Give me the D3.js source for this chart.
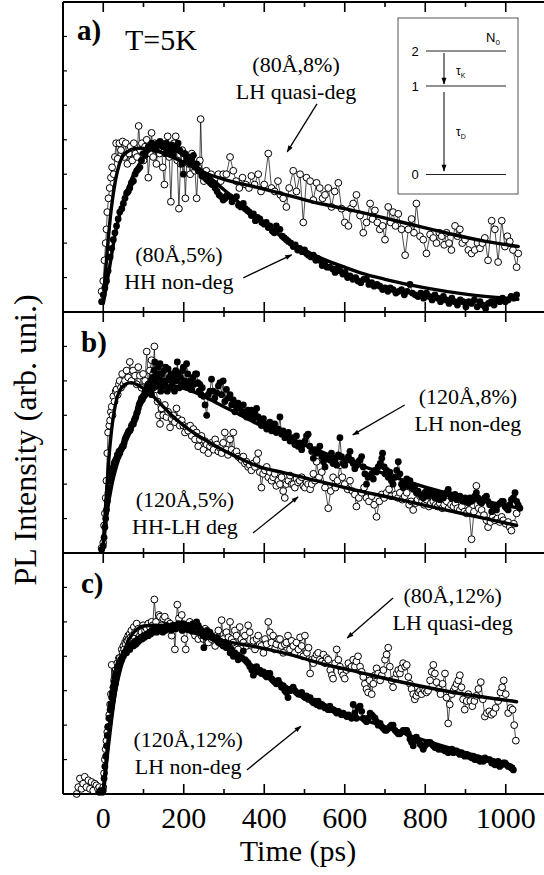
<!DOCTYPE html>
<html>
<head>
<meta charset="utf-8">
<script src="https://cdn.jsdelivr.net/npm/d3@7"></script>
<style>
body{margin:0;background:#fff;}
svg{display:block;}
</style>
</head>
<body>
<script>
// ---------------- data: [time (ps), intensity (tick units)] ----------------
var openA = [[-4,0.6],[0,0.9],[3,1.5],[6,2.0],[8,2.4],[10,2.9],[13,3.3],[16,3.6],[19,3.9],[22,4.2],[26,4.0],[29,4.5],[32,4.9],[36,4.45],[40,4.9],[44,4.7],[48,4.95],[52,4.5],[56,4.9],[60,4.3],[64,4.6],[68,4.8],[72,4.4],[76,4.9],[80,4.6],[84,4.5],[88,5.4],[92,4.7],[96,4.9],[100,4.4],[104,4.8],[108,5.0],[112,3.9],[116,4.6],[120,5.2],[124,4.5],[128,4.9],[132,4.3],[136,4.7],[140,4.6],[144,4.9],[148,4.2],[152,3.7],[156,4.6],[160,5.1],[164,4.5],[168,3.2],[172,4.6],[176,4.9],[180,5.1],[184,4.4],[188,3.0],[192,4.3],[196,4.7],[200,4.6],[204,3.3],[208,4.5],[212,4.3],[216,4.0],[220,4.6],[224,4.3],[228,4.1],[232,3.3],[236,4.2],[240,4.4],[242,5.6],[246,4.0],[250,3.8],[256,4.1],[262,3.9],[268,4.0],[274,3.7],[280,3.9],[286,4.0],[292,3.8],[298,4.0],[306,4.0],[315,4.5],[323,4.1],[330,3.8],[338,3.6],[346,3.9],[354,3.7],[362,3.6],[368,3.95],[376,3.7],[385,4.0],[392,3.5],[400,3.7],[410,4.6],[418,3.6],[426,3.5],[434,3.8],[440,3.4],[447,3.3],[455,3.05],[462,3.6],[472,4.1],[480,3.5],[489,4.0],[497,2.6],[505,3.9],[514,3.8],[522,3.25],[530,3.75],[538,3.6],[545,3.3],[551,3.4],[559,3.6],[567,3.05],[575,3.5],[584,3.75],[592,3.0],[600,2.6],[609,2.5],[615,3.0],[621,3.15],[629,3.4],[638,2.8],[646,2.3],[654,2.6],[663,3.15],[669,2.7],[675,2.95],[681,2.6],[687,2.4],[694,2.5],[700,2.1],[708,3.05],[714,2.6],[720,2.9],[726,2.5],[733,2.85],[741,2.4],[750,1.65],[758,2.4],[766,2.7],[772,2.3],[778,3.15],[787,2.2],[795,2.1],[803,1.7],[812,2.25],[820,2.15],[828,2.0],[835,2.3],[841,2.2],[847,1.95],[853,2.3],[859,2.0],[865,1.8],[874,2.5],[880,2.2],[886,2.4],[892,2.0],[899,2.1],[907,1.8],[915,1.7],[923,1.8],[930,2.0],[936,1.85],[942,2.0],[948,2.15],[956,1.5],[965,2.65],[973,2.4],[981,1.45],[990,2.65],[998,1.9],[1004,2.2],[1010,2.05],[1018,1.8],[1027,1.3],[1031,1.7]];

var filledA = [[-4,0.3],[0,0.5],[4,0.7],[8,0.9],[12,1.2],[17,1.6],[21,1.85],[25,2.1],[29,2.3],[33,2.5],[37,2.7],[41,2.9],[46,3.0],[50,3.15],[54,3.3],[58,3.45],[62,3.5],[66,3.6],[70,3.75],[75,3.8],[79,4.0],[83,4.1],[87,4.15],[91,4.2],[95,4.4],[99,4.6],[104,4.55],[108,4.7],[112,4.8],[116,4.75],[120,4.9],[124,4.85],[128,4.85],[132,4.7],[136,4.9],[141,4.95],[145,4.85],[149,4.8],[153,4.6],[157,4.9],[161,4.75],[166,4.6],[170,4.85],[174,4.55],[178,4.7],[182,4.8],[186,4.9],[190,4.7],[195,4.3],[199,4.0],[203,4.6],[207,4.4],[211,4.5],[216,4.3],[220,4.45],[224,4.55],[228,4.2],[232,4.3],[236,4.1],[240,4.1],[245,3.95],[249,4.0],[253,3.9],[257,3.85],[262,3.8],[266,3.75],[270,3.7],[274,3.7],[278,3.6],[283,3.5],[288,3.4],[293,3.35],[298,3.25],[303,3.3],[308,3.4],[315,3.35],[320,3.2],[326,3.3],[331,3.35],[336,3.1],[342,3.05],[348,3.15],[353,3.0],[358,2.95],[363,2.9],[368,2.8],[373,2.85],[378,2.65],[383,2.75],[389,2.7],[394,2.6],[400,2.55],[405,2.6],[410,2.45],[414,2.5],[420,2.35],[425,2.3],[430,2.5],[435,2.4],[439,2.4],[445,2.2],[450,2.15],[455,2.1],[460,2.05],[466,2.0],[472,1.9],[477,1.95],[483,1.8],[488,1.85],[494,1.75],[500,1.8],[505,1.7],[510,1.65],[516,1.6],[522,1.65],[528,1.5],[533,1.55],[538,1.5],[544,1.35],[550,1.4],[556,1.3],[563,1.3],[570,1.25],[576,1.15],[582,1.25],[588,1.2],[595,1.1],[601,1.15],[607,1.0],[613,1.05],[620,0.95],[627,1.0],[633,0.9],[640,0.85],[647,0.95],[654,0.95],[660,0.8],[667,0.85],[673,0.75],[680,0.8],[687,0.75],[694,0.65],[700,0.7],[707,0.6],[713,0.7],[720,0.65],[727,0.55],[734,0.6],[741,0.65],[748,0.5],[755,0.6],[762,0.8],[768,0.55],[775,0.5],[782,0.45],[789,0.55],[796,0.4],[803,0.55],[810,0.45],[817,0.35],[824,0.5],[831,0.4],[838,0.3],[845,0.45],[852,0.35],[859,0.25],[866,0.4],[873,0.3],[880,0.2],[887,0.35],[894,0.3],[901,0.15],[908,0.3],[915,0.25],[922,0.35],[929,0.15],[936,0.3],[943,0.2],[950,0.1],[957,0.25],[964,0.3],[971,0.2],[978,0.35],[985,0.3],[992,0.4],[999,0.3],[1006,0.35],[1013,0.45],[1020,0.4],[1027,0.5]];

var openB = [[-4,0.15],[0,0.3],[2,0.8],[4,1.15],[6,1.6],[8,2.1],[10,2.9],[12,3.5],[15,3.7],[17,3.85],[19,4.1],[21,4.25],[23,4.0],[25,4.55],[28,4.4],[31,4.7],[33,4.75],[36,4.6],[39,4.9],[41,5.0],[44,4.8],[47,5.2],[50,4.9],[54,5.0],[58,5.3],[62,5.1],[66,5.55],[70,5.0],[74,5.3],[79,5.15],[83,4.9],[87,5.4],[91,5.15],[95,4.8],[99,5.2],[104,5.0],[108,5.85],[112,4.9],[116,5.3],[120,5.6],[124,5.2],[127,6.0],[130,5.0],[132,4.75],[135,4.4],[138,4.0],[141,3.75],[145,4.2],[149,4.0],[153,4.3],[157,3.95],[161,4.1],[166,3.65],[170,3.9],[174,4.0],[178,3.8],[182,4.2],[186,3.9],[190,3.7],[195,3.85],[199,3.7],[203,3.5],[207,3.65],[211,3.55],[216,3.7],[220,3.4],[224,3.6],[228,3.3],[232,3.5],[236,3.1],[240,3.3],[244,3.4],[249,3.0],[253,3.25],[257,3.15],[261,2.9],[265,3.1],[269,3.2],[274,3.0],[278,3.3],[282,3.15],[286,2.95],[290,3.05],[294,2.9],[298,3.2],[302,3.5],[306,3.0],[310,2.85],[315,3.3],[319,3.0],[323,3.5],[327,2.9],[331,2.95],[335,2.8],[340,2.75],[344,2.7],[348,2.8],[352,2.6],[356,2.65],[360,2.5],[364,2.55],[368,2.4],[373,2.6],[377,2.5],[381,2.7],[385,2.9],[389,2.35],[393,1.9],[397,2.3],[402,2.4],[406,2.5],[410,2.2],[414,2.35],[418,2.1],[422,2.2],[426,2.3],[430,1.95],[435,2.1],[439,2.0],[443,2.2],[447,1.8],[451,1.6],[455,2.0],[460,2.1],[464,2.25],[468,2.0],[472,2.0],[476,1.9],[480,2.15],[484,2.05],[488,2.1],[493,2.2],[497,1.95],[501,1.9],[505,2.05],[509,2.0],[514,1.85],[518,2.0],[522,2.3],[526,2.1],[530,2.65],[536,2.2],[543,2.35],[551,1.9],[559,1.3],[565,1.8],[571,2.2],[577,1.9],[582,2.1],[588,2.55],[594,2.2],[600,2.0],[607,1.85],[613,2.1],[619,1.8],[625,1.7],[629,1.35],[635,1.6],[642,1.75],[648,1.9],[654,1.6],[660,1.5],[667,1.65],[673,1.4],[679,1.05],[686,1.5],[692,1.7],[698,1.6],[704,1.75],[710,1.85],[715,1.65],[720,2.2],[726,1.7],[732,1.6],[737,1.75],[743,1.55],[749,1.65],[754,1.75],[760,1.4],[765,1.5],[770,1.25],[776,1.45],[781,1.55],[787,1.65],[792,1.5],[797,1.4],[803,1.55],[809,1.35],[814,1.45],[820,1.5],[826,1.4],[831,1.35],[836,1.45],[842,1.3],[847,1.4],[853,1.5],[858,1.3],[864,1.4],[870,1.35],[875,1.45],[880,1.3],[886,1.25],[891,1.35],[897,1.2],[903,1.15],[909,1.25],[915,0.4],[921,1.2],[927,1.95],[933,1.3],[940,1.25],[946,1.1],[952,0.95],[956,0.75],[962,0.9],[968,1.05],[973,0.95],[979,1.0],[985,0.9],[990,1.05],[994,0.95],[1000,0.85],[1006,0.9],[1010,0.75],[1014,0.65],[1020,0.85],[1027,1.15]];

var filledB = [[-4,0.1],[0,0.2],[2,0.45],[4,0.75],[6,1.0],[8,1.25],[10,1.5],[12,1.75],[14,1.9],[17,2.1],[19,2.25],[21,2.4],[23,2.45],[25,2.5],[27,2.6],[29,2.65],[31,2.7],[33,2.75],[35,2.85],[37,2.8],[39,2.95],[41,2.9],[44,3.0],[46,3.05],[48,3.1],[50,3.1],[52,3.2],[54,3.3],[56,3.35],[58,3.4],[60,3.45],[62,3.5],[64,3.55],[66,3.55],[68,3.6],[70,3.7],[73,3.75],[75,3.75],[77,3.85],[79,3.9],[81,3.95],[83,4.05],[85,4.1],[87,4.2],[89,4.3],[91,4.35],[93,4.4],[95,4.5],[97,4.45],[99,4.55],[102,4.6],[104,4.7],[106,4.65],[108,4.75],[110,4.85],[112,4.7],[114,4.9],[116,4.75],[118,5.0],[120,4.6],[122,5.1],[124,4.8],[126,5.3],[128,5.55],[130,5.0],[132,5.2],[134,4.9],[137,5.4],[139,5.1],[141,5.5],[143,4.7],[145,5.2],[147,5.0],[149,4.85],[151,5.3],[153,4.9],[155,5.4],[157,5.0],[159,4.7],[161,5.35],[164,5.1],[166,4.8],[169,5.2],[172,4.95],[174,5.1],[177,4.7],[180,5.3],[182,5.0],[184,5.55],[186,5.2],[189,4.8],[192,5.1],[195,4.9],[197,5.3],[199,5.4],[202,5.0],[205,4.9],[207,5.5],[210,5.2],[213,4.85],[216,5.0],[218,4.75],[220,4.75],[223,5.1],[226,4.9],[229,5.2],[232,5.2],[235,4.95],[238,4.7],[240,4.9],[243,4.6],[246,4.8],[249,4.55],[253,4.3],[257,4.0],[261,4.6],[265,4.7],[269,5.05],[273,4.7],[277,4.5],[282,4.65],[286,4.85],[290,4.95],[294,4.6],[298,5.0],[302,4.4],[306,4.75],[311,4.5],[315,4.6],[319,4.3],[323,4.45],[327,4.1],[331,4.25],[335,4.35],[340,4.2],[344,4.05],[348,4.3],[352,4.1],[356,3.95],[360,4.15],[364,4.0],[368,4.15],[373,3.9],[377,4.05],[381,4.2],[385,3.95],[389,3.85],[393,3.7],[398,3.9],[402,3.75],[406,3.6],[410,3.7],[414,3.8],[418,3.55],[422,3.65],[426,3.75],[430,3.5],[435,3.6],[439,3.95],[443,3.45],[447,3.55],[451,3.35],[455,3.4],[460,3.5],[464,3.25],[468,3.35],[472,3.3],[476,3.15],[480,3.4],[484,3.1],[488,3.2],[493,3.0],[497,3.15],[501,3.25],[505,3.4],[509,3.45],[513,3.1],[518,2.95],[522,2.75],[526,3.0],[530,2.9],[534,2.95],[538,3.1],[543,2.8],[547,2.65],[551,2.5],[555,2.75],[559,2.8],[563,2.7],[567,2.9],[571,2.6],[576,2.7],[580,2.55],[584,2.85],[588,3.35],[592,2.8],[596,2.6],[600,2.55],[605,2.7],[609,2.8],[613,2.95],[617,2.7],[621,2.6],[625,2.45],[630,2.55],[634,2.65],[638,2.7],[642,2.8],[646,2.5],[650,2.3],[654,2.0],[658,2.2],[663,2.25],[667,2.3],[671,2.15],[675,2.4],[679,2.35],[683,2.5],[688,2.6],[692,2.75],[694,2.9],[698,2.5],[700,2.3],[704,2.4],[708,2.2],[712,2.35],[716,2.1],[720,2.0],[725,2.2],[729,2.4],[733,2.65],[737,2.3],[741,2.0],[745,1.9],[749,2.05],[754,2.15],[758,1.95],[762,2.1],[766,1.9],[770,1.85],[774,1.95],[778,1.75],[782,1.8],[787,1.7],[791,1.65],[795,1.6],[799,1.75],[803,1.8],[807,1.65],[812,1.7],[816,1.8],[820,1.75],[824,1.6],[828,1.75],[832,1.7],[836,1.55],[840,1.65],[845,1.6],[849,1.7],[853,1.75],[857,1.85],[861,1.7],[865,1.6],[870,1.65],[874,1.7],[878,1.55],[882,1.6],[886,1.65],[890,1.55],[894,1.5],[899,1.6],[903,1.5],[907,1.45],[911,1.6],[915,1.5],[919,1.55],[923,1.65],[927,1.75],[931,1.6],[935,1.5],[940,1.45],[944,1.55],[948,1.6],[952,1.65],[956,1.5],[960,1.4],[965,1.2],[969,1.35],[973,1.3],[977,1.25],[981,1.4],[986,1.45],[990,1.5],[994,1.5],[998,1.35],[1002,1.3],[1006,1.25],[1010,1.4],[1014,1.55],[1019,1.6],[1023,1.75],[1027,1.5],[1031,1.4],[1035,1.3]];

var openC = [[-66,0.0],[-62,0.2],[-58,0.45],[-54,0.15],[-50,0.3],[-46,0.5],[-42,0.2],[-37,0.4],[-33,0.15],[-29,0.35],[-25,0.1],[-21,0.3],[-17,0.25],[-13,0.15],[-10,0.2],[-6,0.1],[-4,0.1],[0,0.2],[2,0.6],[4,1.0],[6,1.3],[8,1.55],[10,1.8],[12,1.95],[15,2.3],[17,2.6],[19,2.9],[21,3.75],[23,2.9],[25,3.1],[27,3.3],[29,3.2],[31,3.6],[33,3.5],[35,3.8],[37,3.7],[39,3.95],[41,3.95],[44,3.9],[46,4.2],[48,4.1],[50,4.3],[52,4.2],[54,4.4],[56,4.35],[58,4.5],[60,4.45],[62,4.6],[64,4.5],[66,4.65],[68,4.55],[70,4.75],[73,4.6],[76,4.85],[79,4.7],[83,4.95],[87,4.8],[91,4.6],[95,4.7],[99,4.9],[104,4.75],[108,4.8],[112,4.95],[116,4.85],[120,5.0],[123,4.9],[127,5.65],[131,5.0],[135,4.8],[138,5.2],[141,5.15],[145,4.9],[149,5.1],[153,5.15],[157,4.85],[161,5.0],[166,4.95],[170,4.6],[174,4.8],[178,4.2],[184,5.5],[188,5.1],[191,4.9],[195,5.2],[199,4.8],[202,4.5],[205,4.2],[209,4.8],[212,4.9],[215,5.0],[220,4.8],[224,4.7],[228,4.6],[232,4.85],[236,4.5],[240,4.75],[244,4.6],[249,4.5],[253,4.8],[257,4.7],[261,4.4],[265,4.6],[269,4.5],[273,4.55],[278,4.3],[282,4.6],[286,4.75],[290,4.4],[294,5.05],[298,4.5],[302,4.3],[306,4.7],[311,4.55],[315,5.0],[319,4.5],[323,4.4],[327,4.75],[331,4.6],[335,4.2],[339,4.85],[343,4.5],[348,4.4],[352,4.6],[356,4.3],[360,4.9],[364,4.7],[369,4.3],[373,4.45],[377,4.2],[381,4.5],[385,4.6],[389,4.35],[393,4.3],[398,4.1],[402,4.5],[406,4.35],[410,5.0],[414,4.7],[418,4.4],[422,4.6],[426,4.2],[430,4.35],[435,4.5],[439,4.5],[443,4.3],[447,4.1],[451,4.35],[455,4.4],[459,4.6],[464,4.2],[468,4.45],[472,4.3],[476,4.1],[480,4.4],[485,4.2],[489,4.55],[493,4.3],[497,4.0],[501,4.6],[506,4.1],[510,4.25],[514,3.5],[518,3.9],[522,3.8],[526,3.95],[530,4.05],[534,4.1],[538,3.9],[543,3.85],[547,4.05],[551,3.8],[555,3.95],[559,3.9],[564,3.6],[568,3.45],[571,3.35],[576,3.8],[580,4.2],[584,3.9],[588,3.7],[592,3.55],[596,3.45],[600,3.35],[604,3.6],[609,3.8],[613,3.65],[617,3.7],[621,3.9],[625,3.7],[629,3.85],[633,4.0],[638,3.7],[642,3.55],[646,3.4],[650,3.2],[654,3.05],[658,2.95],[662,3.3],[667,2.9],[671,3.2],[675,3.45],[679,3.65],[683,3.5],[688,3.3],[692,3.45],[696,3.6],[700,3.9],[704,4.05],[708,4.25],[712,3.7],[716,3.3],[720,3.1],[725,3.35],[729,3.5],[733,3.6],[737,3.5],[741,3.65],[745,3.8],[750,3.7],[754,3.75],[758,3.4],[762,3.2],[766,3.05],[770,2.9],[774,2.75],[778,2.85],[783,2.95],[787,3.0],[791,2.9],[795,3.05],[799,3.0],[803,2.95],[807,3.0],[812,3.3],[816,3.55],[820,3.75],[824,3.5],[828,3.25],[833,3.05],[838,2.9],[843,3.2],[849,3.5],[853,2.8],[857,2.05],[861,2.6],[866,2.9],[870,3.0],[874,3.1],[878,3.2],[882,3.3],[886,3.45],[890,3.1],[894,2.75],[898,2.45],[903,2.7],[907,2.9],[912,2.7],[917,2.55],[922,2.7],[927,2.85],[932,3.05],[938,3.25],[943,2.75],[948,2.25],[953,2.35],[959,2.4],[964,2.3],[969,2.35],[975,2.5],[981,2.7],[987,2.95],[991,3.1],[995,3.3],[1000,2.9],[1006,2.35],[1012,2.5],[1017,2.45],[1021,2.0],[1025,1.55]];

var filledC = [[-10,0.05],[-6,0.1],[-2,0.05],[0,0.1],[2,0.45],[4,0.8],[6,1.1],[8,1.4],[10,1.7],[12,1.95],[14,2.2],[17,2.45],[19,2.6],[21,2.8],[23,2.95],[25,3.1],[27,3.25],[29,3.4],[31,3.5],[33,3.55],[35,3.65],[37,3.7],[39,3.8],[41,3.8],[44,3.9],[46,3.9],[48,4.0],[50,4.0],[52,4.1],[54,4.1],[56,4.15],[58,4.1],[60,4.2],[62,4.2],[64,4.25],[66,4.2],[68,4.3],[70,4.3],[73,4.35],[75,4.3],[77,4.4],[79,4.4],[81,4.35],[83,4.45],[85,4.4],[87,4.5],[89,4.45],[91,4.5],[94,4.55],[97,4.5],[100,4.6],[103,4.55],[106,4.6],[109,4.65],[112,4.6],[115,4.7],[118,4.65],[121,4.75],[124,4.7],[127,4.75],[130,4.8],[133,4.7],[136,4.8],[139,4.75],[142,4.8],[145,4.85],[148,4.7],[151,4.8],[154,4.75],[157,4.9],[160,4.8],[163,4.85],[166,4.85],[169,4.75],[172,4.9],[175,4.85],[178,4.9],[181,4.8],[184,4.85],[187,4.95],[190,4.85],[193,4.9],[196,4.75],[199,4.95],[203,4.9],[206,4.8],[209,4.85],[212,4.9],[215,4.85],[219,4.75],[223,4.95],[227,4.85],[232,5.0],[236,4.9],[240,4.8],[244,4.75],[248,4.6],[250,4.25],[254,4.55],[258,4.75],[261,4.65],[265,4.7],[269,4.6],[273,4.55],[278,4.5],[282,4.55],[286,4.4],[290,4.45],[294,4.35],[298,4.3],[302,4.4],[306,4.25],[311,4.35],[315,4.1],[319,4.2],[323,4.0],[327,4.1],[331,4.05],[335,3.9],[339,4.0],[343,3.95],[348,4.15],[352,3.9],[356,3.85],[360,3.8],[364,3.7],[369,3.6],[373,3.45],[377,3.65],[381,3.7],[385,3.55],[389,3.6],[393,3.5],[398,3.55],[402,3.45],[406,3.4],[410,3.5],[414,3.5],[418,3.35],[422,3.3],[426,3.25],[430,3.2],[435,3.3],[439,3.2],[443,3.1],[447,3.15],[451,3.0],[455,2.95],[459,2.8],[464,3.0],[468,3.05],[472,3.1],[476,3.0],[480,2.95],[485,2.9],[489,2.9],[493,2.95],[497,2.85],[501,2.8],[505,2.85],[509,2.75],[514,2.8],[518,2.7],[522,2.65],[526,2.7],[530,2.6],[534,2.7],[538,2.55],[543,2.6],[547,2.55],[551,2.5],[555,2.5],[559,2.45],[563,2.55],[567,2.45],[571,2.45],[576,2.4],[580,2.35],[584,2.4],[588,2.35],[592,2.3],[596,2.35],[600,2.3],[605,2.25],[609,2.3],[613,2.25],[617,2.2],[621,2.6],[625,2.35],[629,2.2],[633,2.5],[638,2.55],[642,2.4],[646,2.2],[650,2.15],[654,2.1],[658,2.2],[663,2.35],[667,2.3],[671,2.25],[675,2.2],[679,2.1],[683,2.0],[688,2.05],[692,1.95],[696,1.9],[700,1.85],[704,1.85],[708,1.9],[712,1.95],[716,2.0],[720,2.0],[725,1.85],[729,1.8],[733,1.75],[737,1.75],[741,1.8],[745,1.85],[750,1.85],[754,1.85],[758,1.75],[762,1.6],[766,1.5],[770,1.4],[774,1.55],[778,1.65],[783,1.55],[787,1.45],[791,1.4],[795,1.3],[799,1.4],[803,1.45],[807,1.5],[812,1.5],[816,1.45],[820,1.4],[824,1.35],[828,1.35],[833,1.3],[837,1.35],[841,1.3],[845,1.3],[849,1.25],[853,1.3],[857,1.2],[861,1.25],[866,1.3],[870,1.2],[874,1.25],[878,1.25],[882,1.2],[886,1.15],[890,1.2],[894,1.15],[898,1.1],[903,1.15],[907,1.1],[911,1.1],[915,1.05],[919,1.1],[923,1.0],[927,1.0],[932,1.05],[936,0.95],[940,1.0],[944,0.95],[948,1.05],[952,1.0],[956,1.0],[960,1.0],[965,0.9],[969,0.95],[973,0.85],[977,0.9],[981,0.95],[985,0.8],[990,0.85],[994,0.9],[998,0.9],[1002,0.85],[1006,0.8],[1010,0.8],[1014,0.75],[1019,0.7]];

// fitted curves
var fitOpenA = [[0,0.3],[10,1.8],[20,3.0],[30,3.8],[40,4.3],[50,4.55],[60,4.65],[80,4.75],[100,4.75],[120,4.72],[150,4.6],[200,4.35],[250,4.05],[300,3.85],[389,3.6],[472,3.35],[538,3.15],[600,3.0],[737,2.62],[850,2.3],[950,2.05],[1031,1.9]];
var fitFilledA = [[0,0.25],[10,0.9],[20,1.6],[30,2.3],[40,2.8],[50,3.2],[60,3.55],[70,3.85],[80,4.1],[90,4.3],[100,4.5],[115,4.7],[130,4.78],[150,4.8],[175,4.72],[200,4.55],[225,4.3],[250,4.05],[275,3.8],[300,3.55],[325,3.3],[350,3.05],[375,2.8],[400,2.55],[425,2.35],[450,2.12],[475,1.95],[500,1.8],[538,1.58],[600,1.3],[650,1.1],[700,0.95],[800,0.7],[900,0.52],[1000,0.4],[1030,0.37]];
var fitOpenB = [[0,0.3],[5,1.2],[10,2.1],[15,2.9],[20,3.5],[30,4.3],[40,4.7],[55,4.9],[70,4.95],[90,4.85],[110,4.7],[141,4.35],[170,4.0],[200,3.7],[265,3.2],[330,2.8],[389,2.5],[450,2.33],[489,2.22],[600,1.9],[737,1.55],[850,1.25],[950,1.0],[1027,0.8]];
var fitFilledB = [[0,0.2],[10,1.2],[20,1.9],[35,2.6],[50,3.1],[65,3.55],[80,4.0],[95,4.35],[110,4.6],[130,4.78],[150,4.85],[175,4.85],[200,4.78],[250,4.55],[300,4.25],[350,3.95],[400,3.65],[450,3.4],[489,3.2],[550,2.9],[600,2.7],[700,2.3],[762,2.05],[850,1.75],[950,1.5],[1035,1.3]];
var fitOpenC = [[-10,0.05],[0,0.1],[10,1.1],[20,2.1],[30,2.95],[40,3.6],[50,4.05],[60,4.4],[70,4.6],[85,4.8],[100,4.88],[130,4.9],[160,4.85],[200,4.75],[248,4.6],[300,4.45],[389,4.25],[489,3.97],[538,3.8],[613,3.6],[737,3.26],[861,2.97],[1027,2.68]];
var fitFilledC = [[0,0.1],[10,1.3],[20,2.2],[30,2.95],[40,3.5],[50,3.9],[60,4.15],[80,4.45],[100,4.6],[130,4.75],[160,4.82],[200,4.8],[230,4.7],[260,4.55],[300,4.3],[350,3.9],[400,3.5],[450,3.15],[500,2.85],[550,2.6],[600,2.35],[700,1.95],[800,1.55],[900,1.2],[1019,0.8]];

var xTickLabels = [0,200,400,600,800,1000];
var panelLabels = ["a)","b)","c)"];
var noteTop = ["(80Å,8%)","(120Å,8%)","(80Å,12%)"];
var noteTopSub = ["LH quasi-deg","LH non-deg","LH quasi-deg"];
var noteLow = ["(80Å,5%)","(120Å,5%)","(120Å,12%)"];
var noteLowSub = ["HH non-deg","HH-LH deg","LH non-deg"];

// ---------------- layout ----------------
var WIDTH = 544, HEIGHT = 875;
var SERIF = "'Liberation Serif','Times New Roman',serif";
var SANS = "'Liberation Sans',Arial,sans-serif";
var R = 3.4;

var svg = d3.select("body").append("svg")
	.attr("width",WIDTH)
	.attr("height",HEIGHT)
	.style("background","#fff");

svg.append("defs").append("marker")
	.attr("id","arrowHead")
	.attr("viewBox","0 0 10 10")
	.attr("refX",9).attr("refY",5)
	.attr("markerUnits","userSpaceOnUse")
	.attr("markerWidth",9).attr("markerHeight",7)
	.attr("orient","auto")
	.append("path")
	.attr("d","M0,1.5 L10,5 L0,8.5 z")
	.style("fill","black");

var x = d3.scaleLinear().domain([-100,1100]).range([63,546]);

// note positions in data units: [t, v]
var panels = [
	{top:2, bottom:312, max:9, open:openA, filled:filledA, fitOpen:fitOpenA, fitFilled:fitFilledA,
	 topNote:[479,6.97], topArrow:[531,6.04,457,4.65], lowNote:[188,1.45], lowArrow:[348,0.99,468,1.66]},
	{top:312, bottom:553, max:7, open:openB, filled:filledB, fitOpen:fitOpenB, fitFilled:fitFilledB,
	 topNote:[906,4.33], topArrow:[749,4.3,620,3.43], lowNote:[203,1.34], lowArrow:[372,0.58,484,1.63]},
	{top:553, bottom:794, max:7, open:openC, filled:filledC, fitOpen:fitOpenC, fitFilled:fitFilledC,
	 topNote:[868,5.55], topArrow:[720,5.69,606,4.53], lowNote:[211,1.37], lowArrow:[357,0.70,491,1.97]}
];

panels.forEach(function(p,i){ _drawPanel(svg,p,i); });
_drawBottomAxis(svg);
_drawInset(svg);

// y title
svg.append("text")
	.text("PL Intensity (arb. uni.)")
	.attr("transform","translate(36,440) rotate(-90)")
	.style("text-anchor","middle")
	.style("font-family",SERIF)
	.style("font-size","32px");

function _drawPanel(svg,p,i){
	var y = d3.scaleLinear().domain([0,p.max]).range([p.bottom,p.top]);
	var g = svg.append("g").attr("id","panel_"+i);
	var line = d3.line().x(function(d){return x(d[0]);}).y(function(d){return y(d[1]);});
	var fit = d3.line().curve(d3.curveMonotoneX).x(function(d){return x(d[0]);}).y(function(d){return y(d[1]);});

	// open circles + thin line
	g.append("path").attr("d",line(p.open))
		.style("fill","none").style("stroke","black").style("stroke-width",0.7);
	g.selectAll(".o").data(p.open).enter().append("circle")
		.attr("cx",function(d){return x(d[0]);})
		.attr("cy",function(d){return y(d[1]);})
		.attr("r",R)
		.style("fill","white").style("stroke","black").style("stroke-width",1);

	// filled circles + thin line
	g.append("path").attr("d",line(p.filled))
		.style("fill","none").style("stroke","black").style("stroke-width",0.7);
	g.selectAll(".f").data(p.filled).enter().append("circle")
		.attr("cx",function(d){return x(d[0]);})
		.attr("cy",function(d){return y(d[1]);})
		.attr("r",R)
		.style("fill","black");

	// fits
	[p.fitOpen,p.fitFilled].forEach(function(f){
		g.append("path").attr("d",fit(f))
			.style("fill","none").style("stroke","black").style("stroke-width",3.4)
			.style("stroke-linejoin","round").style("stroke-linecap","round");
	});

	// frame: left axis + horizontal axes
	_drawLine(g,x(-100),p.top,x(-100),p.bottom,2);
	_drawLine(g,x(-100),p.top,x(1100),p.top,2);
	_drawLine(g,x(-100),p.bottom,x(1100),p.bottom,2);

	// y ticks (inward)
	d3.range(1,p.max).forEach(function(v){
		_drawLine(g,x(-100),y(v),x(-100)+4,y(v),1.2);
	});
	// x ticks top and bottom (inward)
	d3.range(0,1100,100).forEach(function(t){
		var len = (t%200==0) ? 10 : 5;
		_drawLine(g,x(t),p.top,x(t),p.top+len,1.6);
		_drawLine(g,x(t),p.bottom,x(t),p.bottom-len,1.6);
	});

	// panel label
	g.append("text")
		.text(panelLabels[i])
		.attr("x",i==0 ? 77 : 81)
		.attr("y",p.top + (i==0 ? 38 : 40))
		.style("font-family",SERIF)
		.style("font-weight","bold")
		.style("font-size","29px");
	if (i==0){
		g.append("text")
			.text("T=5K")
			.attr("x",x(54))
			.attr("y",y(7.6))
			.style("font-family",SERIF)
			.style("font-size","30px");
	}

	// annotations
	_drawNote(g,noteTop[i],noteTopSub[i],x(p.topNote[0]),y(p.topNote[1]));
	_drawNote(g,noteLow[i],noteLowSub[i],x(p.lowNote[0]),y(p.lowNote[1]));
	_drawArrow(g,x(p.topArrow[0]),y(p.topArrow[1]),x(p.topArrow[2]),y(p.topArrow[3]));
	_drawArrow(g,x(p.lowArrow[0]),y(p.lowArrow[1]),x(p.lowArrow[2]),y(p.lowArrow[3]));
}

function _drawNote(g,line1,line2,cx,baseY){
	g.append("text").text(line1)
		.attr("x",cx).attr("y",baseY)
		.style("text-anchor","middle")
		.style("font-family",SERIF).style("font-size","22px");
	g.append("text").text(line2)
		.attr("x",cx).attr("y",baseY+27)
		.style("text-anchor","middle")
		.style("font-family",SERIF).style("font-size","22px");
}

function _drawArrow(g,x1,y1,x2,y2){
	g.append("line")
		.attr("x1",x1).attr("y1",y1).attr("x2",x2).attr("y2",y2)
		.style("stroke","black").style("stroke-width",1.3)
		.attr("marker-end","url(#arrowHead)");
}

function _drawLine(g,x1,y1,x2,y2,w){
	g.append("line")
		.attr("x1",x1).attr("y1",y1).attr("x2",x2).attr("y2",y2)
		.style("stroke","black").style("stroke-width",w);
}

function _drawBottomAxis(svg){
	var bottom = panels[2].bottom;
	svg.selectAll(".xlab").data(xTickLabels).enter().append("text")
		.text(function(d){return d;})
		.attr("x",function(d){return x(d);})
		.attr("y",bottom+34)
		.style("text-anchor","middle")
		.style("font-family",SERIF)
		.style("font-size","30px");
	svg.append("text")
		.text("Time (ps)")
		.attr("x",298)
		.attr("y",861)
		.style("text-anchor","middle")
		.style("font-family",SERIF)
		.style("font-size","30px");
}

// energy level scheme in panel a
function _drawInset(svg){
	var g = svg.append("g").attr("id","inset");
	g.append("rect")
		.attr("x",398).attr("y",18).attr("width",120).attr("height",176)
		.style("fill","white").style("stroke","#555").style("stroke-width",1);
	var levels = [["2",51],["1",86],["0",174.5]];
	levels.forEach(function(l){
		g.append("line").attr("x1",426).attr("y1",l[1]).attr("x2",506).attr("y2",l[1])
			.style("stroke","#222").style("stroke-width",1);
		g.append("text").text(l[0])
			.attr("x",415).attr("y",l[1]+4.5)
			.style("text-anchor","middle")
			.style("font-family",SANS).style("font-size","13px");
	});
	g.append("text").attr("x",486).attr("y",42)
		.style("font-family",SANS).style("font-size","13px")
		.text("N")
		.append("tspan").text("0").attr("dy",3).style("font-size","8px");
	_drawArrow(g,444,53,444,84);
	_drawArrow(g,444,92,444,171);
	g.selectAll("line").filter(function(){return this.getAttribute("marker-end");})
		.style("stroke-width",1);
	g.append("text").attr("x",456).attr("y",75)
		.style("font-family",SANS).style("font-size","12px")
		.text("τ")
		.append("tspan").text("K").attr("dy",3).style("font-size","7px");
	g.append("text").attr("x",456).attr("y",136)
		.style("font-family",SANS).style("font-size","12px")
		.text("τ")
		.append("tspan").text("D").attr("dy",3).style("font-size","7px");
}
</script>
</body>
</html>
